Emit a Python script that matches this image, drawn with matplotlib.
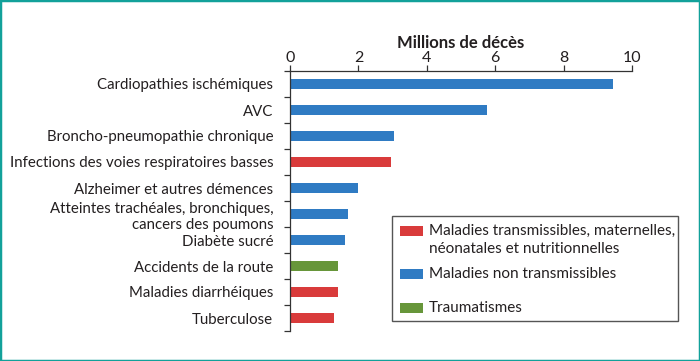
import matplotlib
matplotlib.use("Agg")
import matplotlib.pyplot as plt
from matplotlib.patches import Rectangle

plt.rcParams['font.family'] = ['Lato', 'DejaVu Sans']

categories = [
    "Cardiopathies ischémiques",
    "AVC",
    "Broncho-pneumopathie chronique",
    "Infections des voies respiratoires basses",
    "Alzheimer et autres démences",
    "Atteintes trachéales, bronchiques,\ncancers des poumons",
    "Diabète sucré",
    "Accidents de la route",
    "Maladies diarrhéiques",
    "Tuberculose",
]
values = [9.44, 5.77, 3.04, 2.95, 1.99, 1.71, 1.61, 1.39, 1.39, 1.29]
groups = ["nt", "nt", "nt", "t", "nt", "nt", "nt", "tr", "t", "t"]

group_labels = {
    "t": "Maladies transmissibles, maternelles,\nnéonatales et nutritionnelles",
    "nt": "Maladies non transmissibles",
    "tr": "Traumatismes",
}
group_order = ["t", "nt", "tr"]
colors = {"t": "#D93B3B", "nt": "#2F7BC3", "tr": "#67963A"}
xticks = [0, 2, 4, 6, 8, 10]
xlabel = "Millions de décès"

W, H = 700, 361
fig = plt.figure(figsize=(W / 100, H / 100), dpi=100)

def fx(x):
    return x / W

def fy(y):
    return 1 - y / H

ax = fig.add_axes([fx(290), fy(331), fx(632) - fx(290), fy(71) - fy(331)])

n = len(categories)
ypos = list(range(n))
ax.barh(ypos, values, height=0.36, color=[colors[g] for g in groups])
ax.set_ylim(n - 0.5, -0.5)
ax.set_xlim(0, 10)

ax.xaxis.tick_top()
ax.xaxis.set_label_position('top')
ax.set_xticks(xticks)
ax.set_xticklabels([str(t) for t in xticks], fontsize=11.5, color="#231F20")
ax.tick_params(axis='x', direction='out', length=4, width=0.9, pad=0, color="#333333")
ax.set_xlabel(xlabel, fontsize=12, fontweight='bold', color="#231F20", labelpad=2.5)

ax.set_yticks(ypos)
ax.set_yticklabels(categories, fontsize=10.8, color="#231F20")
ax.tick_params(axis='y', which='major', length=0, pad=12)
ax.set_yticks([i + 0.5 for i in range(-1, n)], minor=True)
ax.tick_params(axis='y', which='minor', direction='out', length=4, width=0.9, color="#333333")
for lbl in ax.get_yticklabels():
    lbl.set_multialignment('right')
    lbl.set_linespacing(1.2)

for s in ['right', 'bottom']:
    ax.spines[s].set_visible(False)
for s in ['top', 'left']:
    ax.spines[s].set_linewidth(0.9)
    ax.spines[s].set_color("#333333")

# legend (manual)
fig.patches.append(Rectangle((fx(392), fy(321)), fx(678) - fx(392), fy(216) - fy(321),
                             transform=fig.transFigure, fill=False, edgecolor="#555555",
                             linewidth=1.0))
leg_y = {"t": 231, "nt": 274, "tr": 308}
for g in group_order:
    y = leg_y[g]
    fig.patches.append(Rectangle((fx(400), fy(y + 5)), fx(23), fy(0) - fy(10),
                                 transform=fig.transFigure, facecolor=colors[g],
                                 edgecolor='none'))
    fig.text(fx(429), fy(y - 7), group_labels[g], fontsize=11, color="#231F20",
             ha='left', va='top', linespacing=1.35)

# teal frame
fig.patches.append(Rectangle((0, 0), 1, 1, transform=fig.transFigure, fill=False,
                             edgecolor="#12A19A", linewidth=2.5))

fig.savefig("out.png", dpi=100)
